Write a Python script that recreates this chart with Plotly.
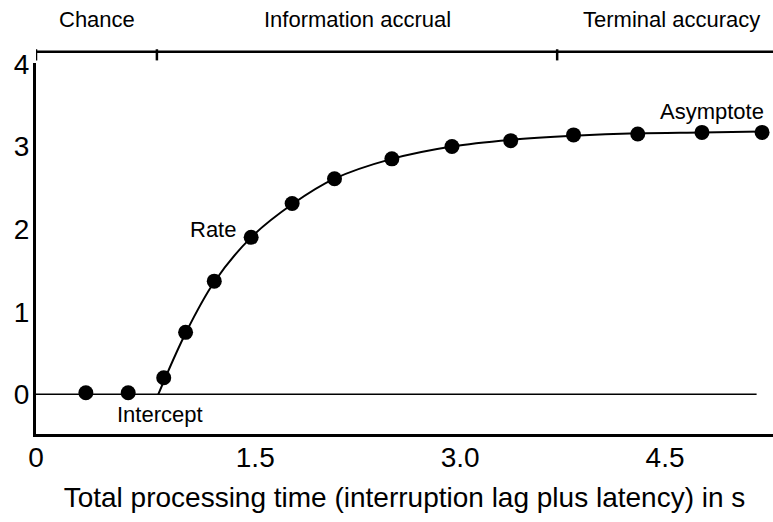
import plotly.graph_objects as go

# ---- data ----
time_s = [0.26, 0.57, 0.83, 0.99, 1.20, 1.47, 1.77, 2.08, 2.50, 2.94, 3.37, 3.83, 4.30, 4.77, 5.21]
dprime = [0.02, 0.02, 0.20, 0.75, 1.37, 1.90, 2.31, 2.61, 2.85, 3.00, 3.07, 3.14, 3.15, 3.17, 3.17]

curve_x = [0.79, 0.99, 1.20, 1.47, 1.77, 2.08, 2.50, 2.94, 3.37, 3.83, 4.30, 4.77, 5.21]
curve_y = [0.00, 0.74, 1.36, 1.90, 2.30, 2.61, 2.85, 3.00, 3.08, 3.13, 3.16, 3.17, 3.18]

x_min, x_max = -0.105, 5.29
y_min, y_max = -0.48, 4.01
zero_line_end = 5.17

x_tick_vals = [x_min, 1.5, 3.0, 4.5]
x_tick_text = ["0", "1.5", "3.0", "4.5"]
y_tick_vals = [0, 1, 2, 3, 4]

phase_bounds = [x_min, 0.78, 3.71]
phase_labels = ["Chance", "Information accrual", "Terminal accuracy"]
phase_label_x = [0.34, 2.25, 4.55]

point_labels = ["Rate", "Intercept", "Asymptote"]
point_label_x = [1.19, 0.80, 4.84]
point_label_y = [1.99, -0.24, 3.42]

FONT = "Liberation Sans, Arial, Helvetica, sans-serif"

fig = go.Figure()

fig.add_trace(go.Scatter(x=[x_min, zero_line_end], y=[0, 0], mode="lines",
                         line=dict(color="black", width=1.5), hoverinfo="skip"))
fig.add_trace(go.Scatter(x=curve_x, y=curve_y, mode="lines",
                         line=dict(color="black", width=2, shape="spline", smoothing=1.0)))
fig.add_trace(go.Scatter(x=time_s, y=dprime, mode="markers",
                         marker=dict(color="black", size=15)))

# header phase bar
shapes = [dict(type="line", xref="x", yref="paper", x0=x_min, x1=x_max, y0=1.03, y1=1.03,
               line=dict(color="black", width=2.5))]
for b in phase_bounds:
    shapes.append(dict(type="line", xref="x", yref="paper", x0=b, x1=b, y0=1.007, y1=1.037,
                       line=dict(color="black", width=2.5)))

annotations = []
for lab, lx in zip(phase_labels, phase_label_x):
    annotations.append(dict(text=lab, x=lx, y=1.116, xref="x", yref="paper", showarrow=False,
                            font=dict(size=22, color="black", family=FONT),
                            xanchor="center", yanchor="middle"))
for lab, lx, ly in zip(point_labels, point_label_x, point_label_y):
    annotations.append(dict(text=lab, x=lx, y=ly, xref="x", yref="y", showarrow=False,
                            font=dict(size=22, color="black", family=FONT),
                            xanchor="center", yanchor="middle"))

fig.update_layout(
    width=773, height=522,
    margin=dict(l=36, r=0, t=63, b=88),
    paper_bgcolor="white", plot_bgcolor="white",
    showlegend=False,
    font=dict(family=FONT, color="black"),
    shapes=shapes, annotations=annotations,
    xaxis=dict(range=[x_min, x_max], tickvals=x_tick_vals, ticktext=x_tick_text,
               showgrid=False, zeroline=False, showline=True, linewidth=3, linecolor="black",
               ticks="", tickfont=dict(size=28), ticklabelstandoff=-4,
               title=dict(text="Total processing time (interruption lag plus latency) in s",
                          font=dict(size=28), standoff=16)),
    yaxis=dict(range=[y_min, y_max], tickvals=y_tick_vals,
               showgrid=False, zeroline=False, showline=True, linewidth=3, linecolor="black",
               ticks="", tickfont=dict(size=28), ticklabelstandoff=-2),
)

fig.write_html("out.html")
